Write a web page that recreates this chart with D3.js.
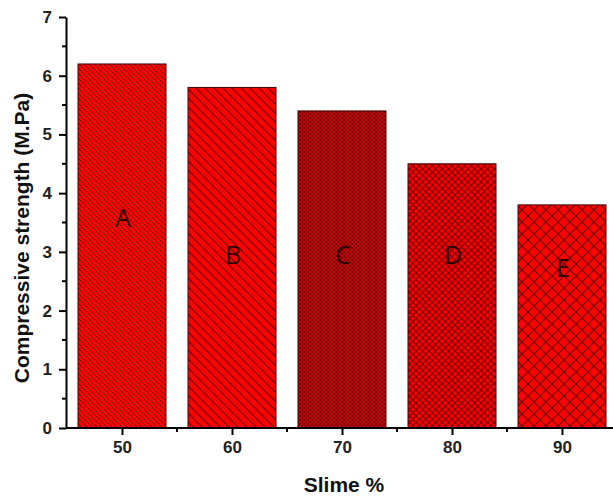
<!DOCTYPE html>
<html lang='en'>
	<head>
		<meta charset='utf-8'>
		<title>Slime bars</title>
		<script type='text/javascript' src='https://cdn.jsdelivr.net/npm/d3@7/dist/d3.min.js'></script>
		<style>
			body { margin: 0; background: #fff; }
			.axis path, .axis line { stroke: #000; stroke-width: 2px; }
			.axis text { font-family: Arial, 'Liberation Sans', sans-serif; font-weight: bold; font-size: 17px; fill: #222; }
			.title { font-family: Arial, 'Liberation Sans', sans-serif; font-weight: bold; font-size: 21px; fill: #111; }
			.letter { font-family: 'Open Sans', 'DejaVu Sans', sans-serif; font-size: 25px; fill: #2a0000; }
		</style>
	</head>
	<body>
		<script type='text/javascript'>
			var slime = [50, 60, 70, 80, 90];
			var strength = [6.2, 5.8, 5.4, 4.5, 3.8];
			var letters = ['A', 'B', 'C', 'D', 'E'];
			var letterY = [3.42, 2.79, 2.79, 2.79, 2.57];
			var yTicks = [0, 1, 2, 3, 4, 5, 6, 7];

			var width = 613, height = 497;
			var x = d3.scaleLinear().domain([45, 95]).range([67, 617]);
			var y = d3.scaleLinear().domain([0, 7]).range([428, 17]);

			var svg = d3.select('body').append('svg')
				.attr('width', width).attr('height', height);

			var defs = svg.append('defs');
			// hatch patterns: [spacing, crossed, line width]
			var hatch = [[5, false, 1], [9, false, 1.2], [4, true, 1.1], [6.5, true, 1], [12, true, 1.2]];
			hatch.forEach(function(h, i) {
				var s = h[0];
				var p = defs.append('pattern').attr('id', 'hp' + i)
					.attr('patternUnits', 'userSpaceOnUse')
					.attr('width', s).attr('height', s);
				p.append('rect').attr('width', s).attr('height', s).attr('fill', '#ff0000');
				p.append('path').attr('d', 'M0,0L' + s + ',' + s + 'M' + (-s) + ',0L' + s + ',' + (2 * s) + 'M0,' + (-s) + 'L' + (2 * s) + ',' + s)
					.attr('stroke', '#3a0000').attr('stroke-width', h[2]).attr('stroke-opacity', 0.75);
				if (h[1]) {
					p.append('path').attr('d', 'M0,' + s + 'L' + s + ',0M' + (-s) + ',' + s + 'L' + s + ',' + (-s) + 'M0,' + (2 * s) + 'L' + (2 * s) + ',0')
						.attr('stroke', '#3a0000').attr('stroke-width', h[2]).attr('stroke-opacity', 0.75);
				}
			});

			svg.append('g').selectAll('rect')
				.data(slime)
				.enter().append('rect')
					.attr('x', function(d) { return x(d - 4); })
					.attr('y', function(d, i) { return y(strength[i]); })
					.attr('width', function(d) { return x(d + 4) - x(d - 4); })
					.attr('height', function(d, i) { return y(0) - y(strength[i]); })
					.attr('fill', function(d, i) { return 'url(#hp' + i + ')'; })
					.attr('stroke', '#3a0a0a').attr('stroke-width', 1);

			svg.append('g').selectAll('text')
				.data(slime)
				.enter().append('text')
					.attr('class', 'letter')
					.attr('text-anchor', 'middle')
					.attr('x', function(d) { return x(d) + 1; })
					.attr('y', function(d, i) { return y(letterY[i]); })
					.text(function(d, i) { return letters[i]; });

			// y axis with minor ticks
			var ya = svg.append('g').attr('class', 'axis').attr('transform', 'translate(66,0)');
			ya.call(d3.axisLeft(y).tickValues(yTicks).tickSize(7).tickSizeOuter(0).tickFormat(d3.format('d')));
			ya.selectAll('text').attr('dx', '-4px');
			ya.selectAll('.minor').data(d3.range(0.5, 7, 1)).enter().append('line')
				.attr('class', 'minor').attr('x1', -4).attr('x2', 0)
				.attr('y1', function(d) { return y(d); }).attr('y2', function(d) { return y(d); });

			var xa = svg.append('g').attr('class', 'axis').attr('transform', 'translate(0,428)');
			xa.call(d3.axisBottom(x).tickValues(slime).tickSize(7).tickSizeOuter(0));
			xa.selectAll('text').attr('dy', '15px');
			xa.selectAll('.minor').data([55, 65, 75, 85, 95]).enter().append('line')
				.attr('class', 'minor').attr('y1', 0).attr('y2', 4)
				.attr('x1', function(d) { return x(d); }).attr('x2', function(d) { return x(d); });
			xa.select('.domain').attr('d', 'M66,0H613');

			svg.append('text').attr('class', 'title').attr('text-anchor', 'middle')
				.attr('x', 344).attr('y', 492).text('Slime %');
			svg.append('text').attr('class', 'title').attr('text-anchor', 'middle')
				.attr('transform', 'translate(29,238) rotate(-90)').text('Compressive strength (M.Pa)');
		</script>
	</body>
</html>
